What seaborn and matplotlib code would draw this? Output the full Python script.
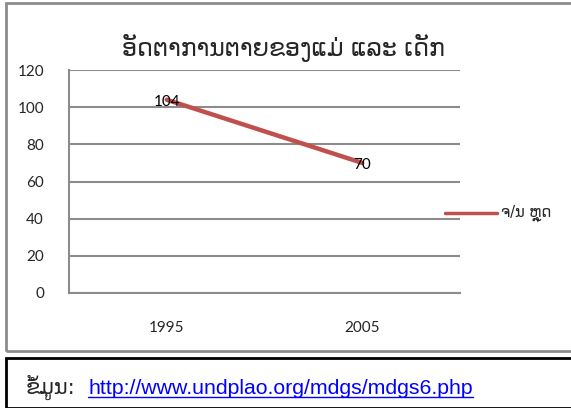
import matplotlib
matplotlib.use("Agg")
import matplotlib.pyplot as plt
import seaborn as sns
import pandas as pd
from matplotlib.patches import Rectangle
from matplotlib.lines import Line2D

years = ["1995", "2005"]
values = [104, 70]
series_name = "ຈ/ນ ຫຼຸດ"
title = "ອັດຕາການຕາຍຂອງແມ່ ແລະ ເດັກ"
source_label = "ຂໍ້ມູນ:"
source_url = "http://www.undplao.org/mdgs/mdgs6.php"
y_ticks = [0, 20, 40, 60, 80, 100, 120]

sns.set_style("white")
plt.rcParams["font.family"] = ["Lato", "DejaVu Sans"]

df = pd.DataFrame({"pos": range(len(years)), "value": values, "series": series_name})

W, H = 571, 408
fig = plt.figure(figsize=(W / 100, H / 100), dpi=100)
ax = fig.add_axes([69 / W, 1 - 293 / H, (460 - 69) / W, (293 - 70) / H])

# chart frame and source box
fig.patches.append(Rectangle((6 / W, 1 - 351 / H), 1.0, (351 - 3) / H, transform=fig.transFigure,
                             fill=False, edgecolor="#8c8c8c", linewidth=2, zorder=0))
fig.patches.append(Rectangle((6 / W, 0.0), 1.0, (408 - 358) / H, transform=fig.transFigure,
                             fill=False, edgecolor="black", linewidth=2, zorder=0))

sns.lineplot(data=df, x="pos", y="value", hue="series", palette=["#c0504d"],
             linewidth=3.2, ax=ax, legend=False)

for x, v, dy in zip(df["pos"], values, [-1, -1]):
    ax.text(x, v + dy, str(v), ha="center", va="center", fontsize=11, color="black")

ax.set_xlim(-0.5, len(years) - 0.5)
ax.set_ylim(0, 120)
ax.set_yticks(y_ticks)
ax.set_yticklabels([str(t) for t in y_ticks])
ax.set_xticks(range(len(years)))
ax.set_xticklabels(years)
ax.set_xticks([i - 0.5 for i in range(len(years) + 1)], minor=True)
ax.tick_params(axis="x", which="major", length=0, pad=20, labelsize=11)
ax.tick_params(axis="x", which="minor", length=5, width=1.5, color="#8c8c8c", direction="out")
ax.tick_params(axis="y", length=6, width=1.5, color="#8c8c8c", pad=12, labelsize=11)
ax.grid(axis="y", color="#8c8c8c", linewidth=1.5)
ax.grid(axis="x", visible=False)
ax.set_axisbelow(True)
for side in ["top", "right"]:
    ax.spines[side].set_visible(False)
for side in ["left", "bottom"]:
    ax.spines[side].set_color("#8c8c8c")
    ax.spines[side].set_linewidth(1.5)
ax.set_xlabel("")
ax.set_ylabel("")

fig.text(283 / W, 1 - 48 / H, title, ha="center", va="center", fontsize=17,
         family=["DejaVu Sans"])

# legend
fig.lines.append(Line2D([445 / W, 497 / W], [1 - 213 / H] * 2, transform=fig.transFigure,
                        color="#c0504d", linewidth=2.5))
fig.text(501 / W, 1 - 213 / H, series_name, ha="left", va="center", fontsize=10.5,
         family=["DejaVu Sans"])

fig.text(26 / W, 1 - 394 / H, source_label, ha="left", va="baseline", fontsize=15,
         family=["DejaVu Sans"])
url = fig.text(88 / W, 1 - 394 / H, source_url, ha="left", va="baseline", fontsize=15.3,
               color="#0000ff", family=["Liberation Sans"])
fig.canvas.draw()
bb = url.get_window_extent().transformed(fig.transFigure.inverted())
fig.lines.append(Line2D([bb.x0, bb.x1], [1 - 397 / H] * 2, transform=fig.transFigure,
                        color="#0000ff", linewidth=1))

fig.savefig("out.png", dpi=100)
